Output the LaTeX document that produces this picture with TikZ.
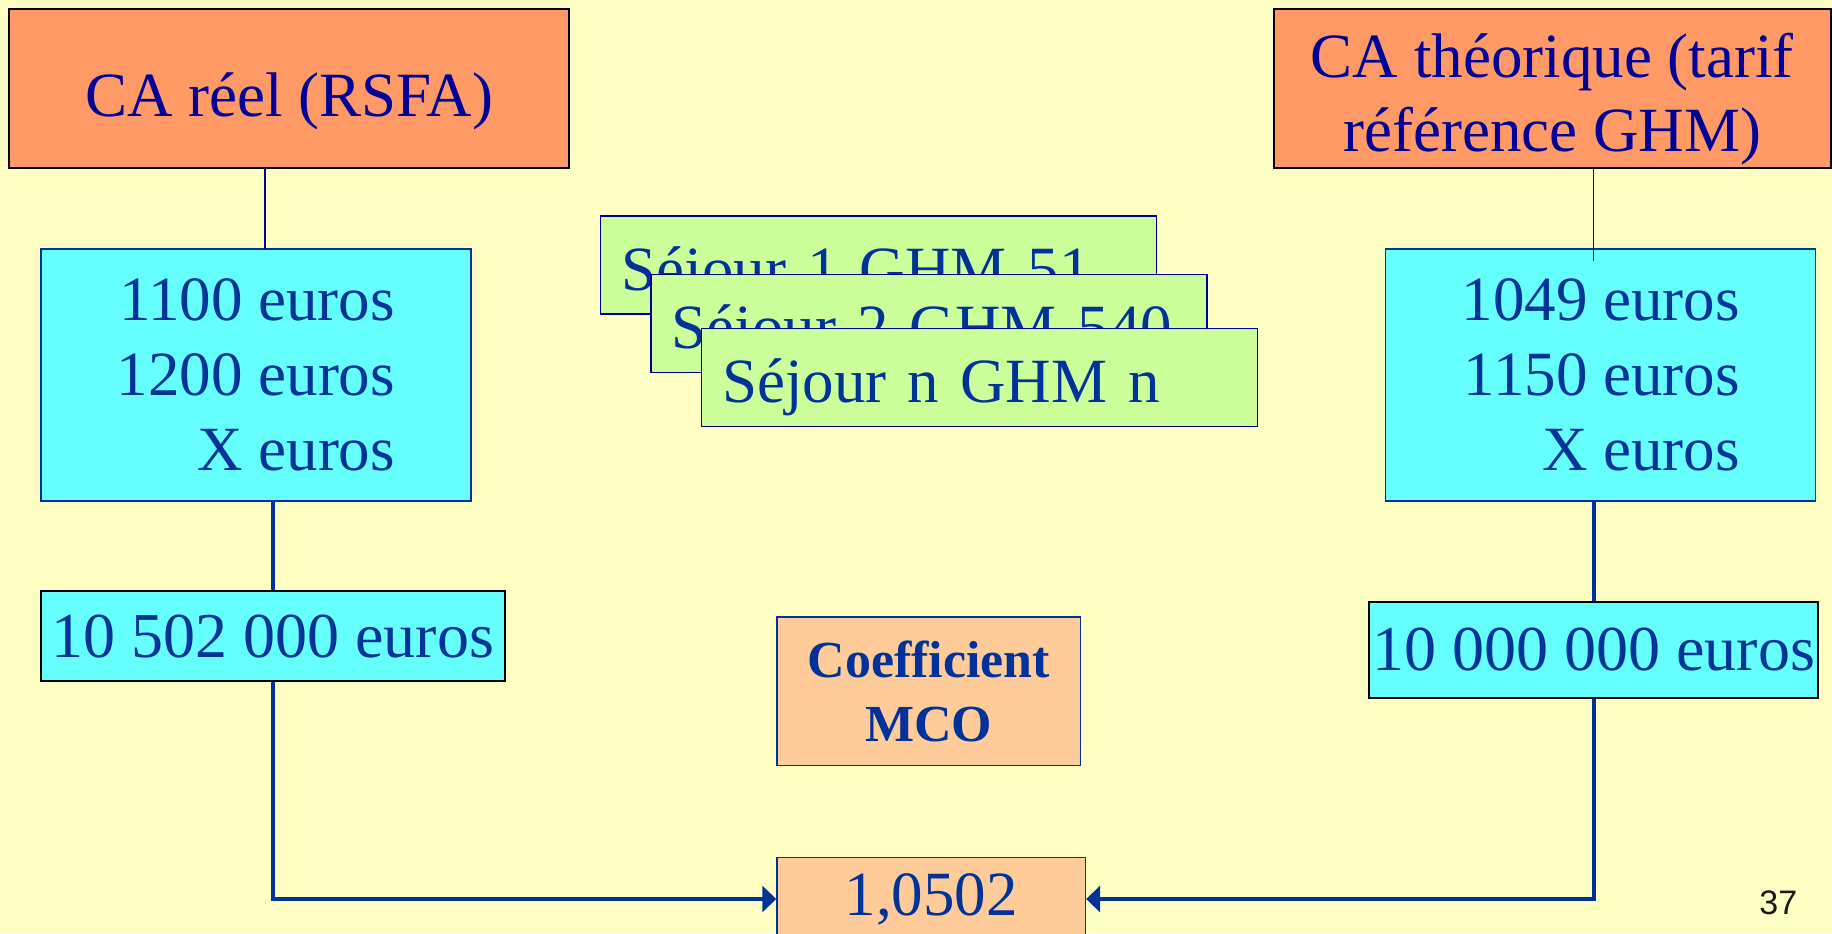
\documentclass[tikz,border=0pt]{standalone}
\usepackage{fontspec}
\setmainfont{Liberation Serif}
\setsansfont{Liberation Sans}
\usetikzlibrary{arrows.meta}
\definecolor{bg}{HTML}{FFFFC4}
\definecolor{orangebox}{HTML}{FF9966}
\definecolor{cyanbox}{HTML}{66FFFF}
\definecolor{greenbox}{HTML}{CCFF99}
\definecolor{peachbox}{HTML}{FFCC99}
\definecolor{navy}{HTML}{000099}
\definecolor{dblue}{HTML}{003399}
\tikzset{
  topbox/.style={draw=black, line width=1pt, fill=orangebox, text=navy,
    minimum height=79.5pt, inner sep=0pt, align=center,
    font=\fontsize{31.5}{36.8}\selectfont},
  valbox/.style={draw=dblue, line width=0.75pt, fill=cyanbox, text=dblue,
    minimum width=215pt, minimum height=126.2pt, inner sep=0pt, align=right,
    font=\fontsize{31.5}{37.5}\selectfont},
  sumbox/.style={draw=black, line width=1pt, fill=cyanbox, text=dblue,
    inner sep=0pt, font=\fontsize{32}{38}\selectfont},
  stayboxstyle/.style={draw=navy, line width=0.75pt, fill=greenbox, text=dblue,
    text width=257pt, inner xsep=10.5pt, inner ysep=0pt, minimum height=49pt,
    text height=25pt, text depth=0pt, align=left,
    font=\fontsize{31.5}{37.5}\selectfont},
  coefbox/.style={draw=dblue, line width=0.75pt, fill=peachbox, text=dblue,
    inner sep=0pt, align=center},
  thinconn/.style={draw=navy, line width=0.75pt},
  thickconn/.style={draw=dblue, line width=2pt},
  arrowconn/.style={thickconn, -{Triangle[length=7pt,width=13pt]}},
}
\begin{document}
\begin{tikzpicture}[x=0.5pt,y=-0.5pt]
\path[use as bounding box, fill=bg] (0,0) rectangle (1832,933);

% top boxes
\node[topbox, minimum width=279.9pt, text height=28pt, text depth=0pt] (A) at (289.2,88.8) {CA réel (RSFA)};
\node[topbox, minimum width=278.7pt] (B) at (1552.3,88.8) {\rule{0pt}{32.5pt}CA théorique (tarif\\référence GHM)};

% value boxes
\node[valbox] (C1) at (255.9,375) {1100 euros\\1200 euros\\X euros};
\node[valbox] (C2) at (1600.7,375) {1049 euros\\1150 euros\\X euros};

% sums
\node[sumbox, minimum width=231.9pt, minimum height=45pt] (D1) at (272.8,636.2) {10 502 000 euros};
\node[sumbox, minimum width=224.3pt, minimum height=47.9pt] (D2) at (1593.7,649.6) {10 000 000 euros};

% stays
\node[stayboxstyle] (G1) at (878.6,265.2) {Séjour 1 GHM 51};
\node[stayboxstyle] (G2) at (928.9,323.7) {Séjour 2 GHM 540};
\node[stayboxstyle] (G3) at (979.3,377.4) {Séjour n GHM n};

% coefficient
\node[coefbox, minimum width=151.8pt, minimum height=74.2pt,
  font=\bfseries\fontsize{26}{32}\selectfont] (K) at (928.9,691.1) {Coefficient\\MCO};
\node[coefbox, minimum width=154.2pt, minimum height=41.4pt,
  font=\fontsize{31.5}{37.5}\selectfont] (R) at (931.2,899) {1,0502};

% page number
\node[font=\sffamily\fontsize{17}{20}\selectfont, text=black!90, inner sep=0pt] (pg) at (1778.3,903.2) {37};

% connectors
\coordinate (ta) at (265.2,248.9);
\coordinate (tb) at (1593.7,260.5);
\draw[thinconn] (A.south -| ta) -- (ta);
\draw[thinconn] (B.south -| tb) -- (tb);
\draw[thickconn] (C1.south -| D1.north) -- (D1.north);
\draw[thickconn] (C2.south -| D2.north) -- (D2.north);
\draw[arrowconn] (D1.south) |- (R.west);
\draw[arrowconn] (D2.south) |- (R.east);
\end{tikzpicture}
\end{document}
